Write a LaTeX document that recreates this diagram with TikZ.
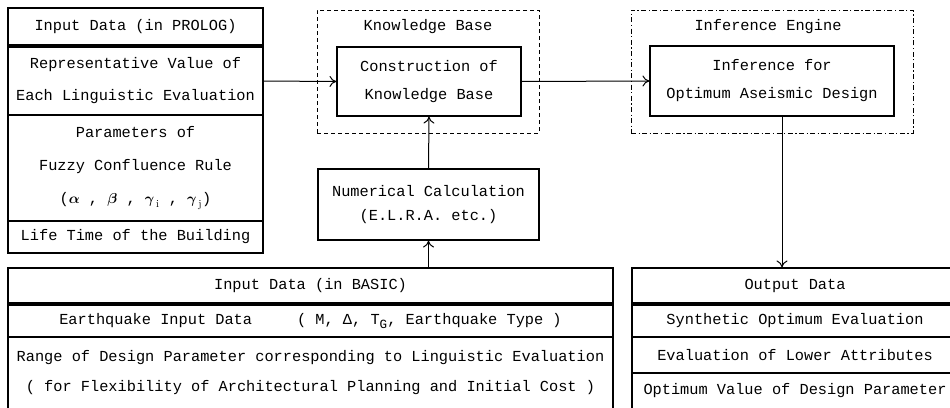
\documentclass[tikz,border=0pt]{standalone}
\usepackage{amsmath}
\usepackage{fontspec}
\setmonofont{Liberation Mono}
\usetikzlibrary{arrows.meta}

\begin{document}
\begin{tikzpicture}[x=1pt,y=-1pt,
    font=\ttfamily\fontsize{15.3}{33}\selectfont,
    cell/.style={shape=rectangle,draw=black,line width=1.1pt,inner sep=0pt,align=center},
    frame/.style={shape=rectangle,draw=black,line width=0.9pt,inner sep=0pt},
    arr/.style={line width=1pt,-{To[length=7pt,width=11pt]}}]
    \useasboundingbox (0,0) rectangle (950,407);

    % PROLOG input
    \node[cell,minimum width=255pt,minimum height=37pt] (p1) at (135.5,26.5) {Input Data (in PROLOG)};
    \node[cell,minimum width=255pt,minimum height=68pt] (p2) at (135.5,81) {Representative Value of\\[-1pt]Each Linguistic Evaluation};
    \node[cell,minimum width=255pt,minimum height=106pt] (p3) at (135.5,168) {Parameters of\\Fuzzy Confluence Rule\\($\boldsymbol{\alpha}$ , $\boldsymbol{\beta}$ , $\boldsymbol{\gamma}_{\,\mathrm{i}}$ , $\boldsymbol{\gamma}_{\,\mathrm{j}}$)};
    \node[cell,minimum width=255pt,minimum height=32pt] (p4) at (135.5,237) {Life Time of the Building};

    % knowledge base
    \node[frame,dashed,dash pattern=on 4pt off 3pt,minimum width=222pt,minimum height=123pt] (kbf) at (428,71.5) {};
    \node (kbt) at (428,27) {Knowledge Base};
    \node[cell,minimum width=184pt,minimum height=69pt] (kb) at (429,81.5) {Construction of\\[-5pt]Knowledge Base};
    \node[cell,minimum width=221pt,minimum height=71pt] (num) at (428.5,204.5) {Numerical Calculation\\[-9pt](E.L.R.A. etc.)};

    % inference engine
    \node[frame,dash pattern=on 5pt off 2.5pt on 1.2pt off 2.5pt,minimum width=282pt,minimum height=123pt] (ief) at (772,71.5) {};
    \node (iet) at (768,27) {Inference Engine};
    \node[cell,minimum width=244pt,minimum height=70pt] (ie) at (772,81) {Inference for\\[-5pt]Optimum Aseismic Design};

    % BASIC input
    \node[cell,minimum width=605pt,minimum height=35pt] (b1) at (310.5,285.5) {Input Data (in BASIC)};
    \node[cell,minimum width=605pt,minimum height=32pt] (b2) at (310.5,321) {Earthquake Input Data\hspace*{45pt}( M, Δ, T\raisebox{-0.4ex}{\fontsize{12.5}{12.5}\selectfont G}, Earthquake Type )};
    \node[cell,minimum width=605pt,minimum height=72pt] (b3) at (310.5,373) {Range of Design Parameter corresponding to Linguistic Evaluation\\[-3pt]( for Flexibility of Architectural Planning and Initial Cost )};

    % output
    \node[cell,minimum width=326pt,minimum height=35pt] (o1) at (795,285.5) {Output Data};
    \node[cell,minimum width=326pt,minimum height=32pt] (o2) at (795,321) {Synthetic Optimum Evaluation};
    \node[cell,minimum width=326pt,minimum height=36pt] (o3) at (795,355) {Evaluation of Lower Attributes};
    \node[cell,minimum width=326pt,minimum height=36pt] (o4) at (795,391) {Optimum Value of Design Parameter};

    \draw[arr] (p2.east) -- (kb.west);
    \draw[arr] (num.north) -- (kb.south);
    \draw[arr] (b1.north -| num.south) -- (num.south);
    \draw[arr] (kb.east) -- (ie.west);
    \draw[arr] ([xshift=10pt]ie.south) -- ([xshift=10pt]ie.south |- o1.north);
\end{tikzpicture}
\end{document}
